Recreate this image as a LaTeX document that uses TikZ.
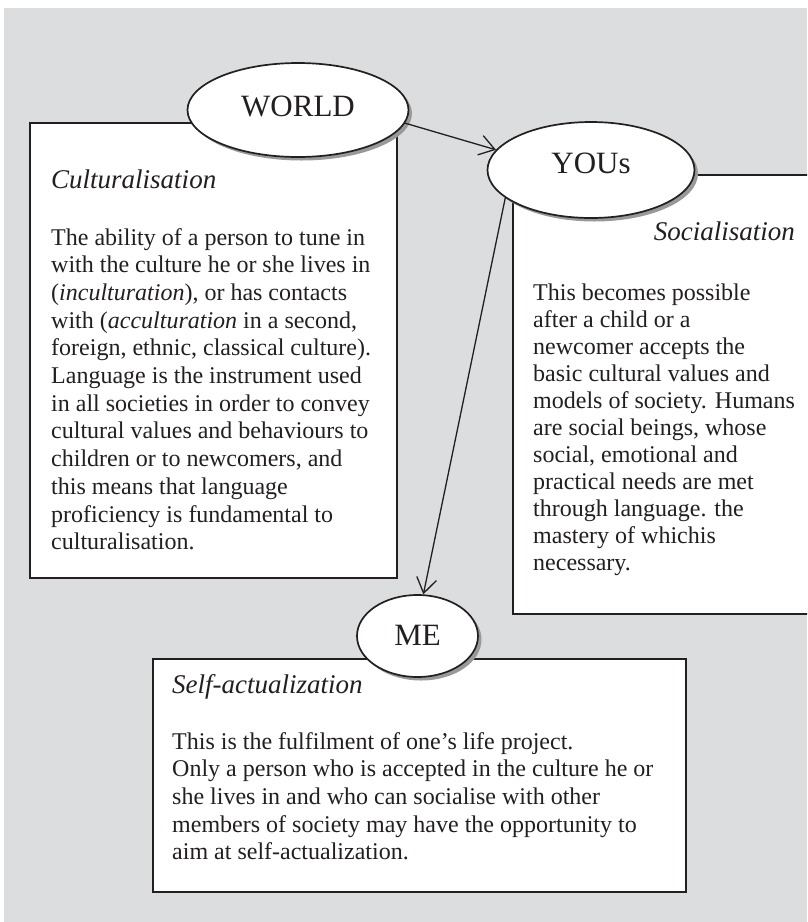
\documentclass[tikz,border=0pt]{standalone}
\usepackage{fontspec}
\setmainfont{Liberation Serif}
\usetikzlibrary{shapes.geometric,arrows.meta,shadows}
\definecolor{panel}{RGB}{220,221,223}
\definecolor{ink}{RGB}{35,31,32}
% body paragraph with fixed line breaks; first baseline is the reference point
\newcommand\bodytext[2]{\parbox[t]{620pt}{\fontsize{24}{#1}\selectfont\raggedright #2}}
\begin{document}
\begin{tikzpicture}[x=1pt,y=-1pt,
  box/.style={draw=ink, line width=1.8pt, fill=white, anchor=north west, inner sep=0pt},
  bubble/.style={ellipse, draw=ink, line width=1.7pt, fill=white, inner sep=0pt,
    font=\fontsize{31}{31}\selectfont, text=ink,
    drop shadow={shadow xshift=3.5pt, shadow yshift=-3.5pt, fill=black!40, opacity=1}},
  link/.style={draw=ink, line width=1.3pt,
    -{Straight Barb[length=15pt,width=20pt,line width=1.3pt]}},
  head/.style={inner sep=0pt, text=ink, font=\fontsize{27}{30}\selectfont\itshape},
  body/.style={anchor=base west, inner sep=0pt, text=ink}
]
\useasboundingbox (0,0) rectangle (807,922);
\clip (0,0) rectangle (807,922);
\fill[panel] (4,8) rectangle (807,922);

% text panels
\node[box, minimum width=367pt, minimum height=455pt] (cbox) at (29,122) {};
\node[box, minimum width=330pt, minimum height=439pt] (sbox) at (512,174) {};
\node[box, minimum width=533pt, minimum height=233pt] (abox) at (152,658) {};

\node[head, anchor=base west] (chead) at (51,188) {Culturalisation};
\node[body] (ctext) at (51,245) {\bodytext{27.7}{%
The ability of a person to tune in\\
with the culture he or she lives in\\
(\textit{inculturation}), or has contacts\\
with (\textit{acculturation} in a second,\\
foreign, ethnic, classical culture).\\
Language is the instrument used\\
in all societies in order to convey\\
cultural values and behaviours to\\
children or to newcomers, and\\
this means that language\\
proficiency is fundamental to\\
culturalisation.}};

\node[head, anchor=base east] (shead) at (795,240) {Socialisation};
\node[body] (stext) at (533,300) {\bodytext{27}{%
This becomes possible\\
after a child or a\\
newcomer accepts the\\
basic cultural values and\\
models of society. Humans\\
are social beings, whose\\
social, emotional and\\
practical needs are met\\
through language. the\\
mastery of whichis\\
necessary.}};

\node[head, anchor=base west] (ahead) at (172,693) {Self-actualization};
\node[body] (atext) at (172,749) {\bodytext{27.7}{%
This is the fulfilment of one’s life project.\\
Only a person who is accepted in the culture he or\\
she lives in and who can socialise with other\\
members of society may have the opportunity to\\
aim at self-actualization.}};

% the three spheres
\node[bubble, minimum width=221pt, minimum height=94pt, text depth=8pt] (world) at (298,110) {WORLD};
\node[bubble, minimum width=207pt, minimum height=96pt, text depth=14pt] (yous) at (591,170) {YOUs};
\node[bubble, minimum width=121pt, minimum height=82pt, text depth=2pt] (me) at (417.5,636) {ME};

% connectors
\draw[link] (world.-7) -- (yous.168);
\draw[link] (yous.198) -- (me.82);
\end{tikzpicture}
\end{document}
